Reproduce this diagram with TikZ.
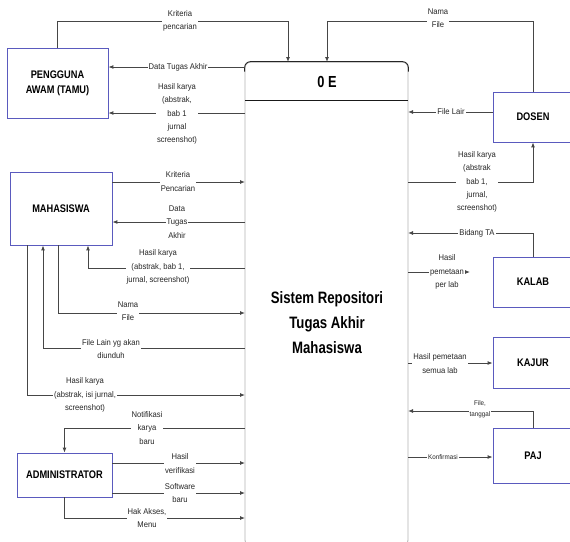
\documentclass[tikz,border=0pt]{standalone}
\usepackage{fontspec}
\setmainfont{Liberation Sans}
\newfontfamily\lblfont[FakeStretch=0.92]{Liberation Sans}
\newfontfamily\entfont[FakeStretch=0.84]{Liberation Sans}
\newfontfamily\procfont[FakeStretch=0.8]{Liberation Sans}
\usepackage{xcolor}
\usetikzlibrary{positioning,arrows.meta}
\definecolor{entblue}{RGB}{90,90,190}
\definecolor{flowgray}{RGB}{70,70,70}
\tikzset{
  entity/.style={draw=entblue,line width=0.8pt,inner sep=2pt,align=center,font=\entfont\bfseries\fontsize{11}{15}\selectfont},
  flow/.style={draw=flowgray,line width=0.9pt,-{Latex[length=5pt,width=4pt]}},
  lbl/.style={fill=white,inner sep=1pt,align=center,text=black!85,font=\lblfont\fontsize{8.3}{13.3}\selectfont},
  slbl/.style={lbl,font=\lblfont\fontsize{6.8}{11}\selectfont},
}

\begin{document}
\begin{tikzpicture}[x=1pt,y=-1pt]
  \useasboundingbox (0,0) rectangle (570,541);
  \clip (0,0) rectangle (570,541);

  \node[draw=black!30,line width=0.8pt,rounded corners=6pt,minimum width=163pt,minimum height=484pt] (proc) at (326.5,304) {};
  \draw[black!85,line width=0.9pt,rounded corners=6pt] ([yshift=-10pt]proc.north west) |- (proc.north) -| ([yshift=-10pt]proc.north east);
  \coordinate (divl) at (245,100);
  \coordinate (divr) at (408,100);
  \draw[black!90,line width=1pt] (divl) -- (divr);
  \node[font=\procfont\bfseries\fontsize{16}{19}\selectfont] (procid) at (327,82) {0 E};
  \node[align=center,font=\procfont\bfseries\fontsize{16.5}{25}\selectfont] (proctext) at (327,323) {Sistem Repositori\\Tugas Akhir\\Mahasiswa};

  \node[entity,minimum width=101pt,minimum height=70pt] (awam) at (57.5,83) {PENGGUNA\\AWAM (TAMU)};
  \node[entity,minimum width=102pt,minimum height=73pt] (mhs) at (61,208.5) {MAHASISWA};
  \node[entity,minimum width=95pt,minimum height=44pt] (admin) at (64.5,475) {ADMINISTRATOR};
  \node[entity,minimum width=80pt,minimum height=50pt] (dosen) at (533,117) {DOSEN};
  \node[entity,minimum width=80pt,minimum height=50pt] (kalab) at (533,282) {KALAB};
  \node[entity,minimum width=80pt,minimum height=51pt] (kajur) at (533,362.5) {KAJUR};
  \node[entity,minimum width=80pt,minimum height=55pt] (paj) at (533,455.5) {PAJ};

  \coordinate (t1) at (288,62);
  \coordinate (t2) at (327,62);
  \coordinate (w1) at (245,67);
  \coordinate (w2) at (245,113);
  \coordinate (w3) at (245,182);
  \coordinate (w4) at (245,222);
  \coordinate (w5) at (245,268);
  \coordinate (w6) at (245,313);
  \coordinate (w7) at (245,348);
  \coordinate (w8) at (245,395);
  \coordinate (w9) at (245,428);
  \coordinate (w10) at (245,463);
  \coordinate (w11) at (245,493);
  \coordinate (w12) at (245,518);
  \coordinate (e1) at (408,112);
  \coordinate (e2) at (408,182);
  \coordinate (e3) at (408,233);
  \coordinate (e4) at (408,272);
  \coordinate (e4end) at (470,272);
  \coordinate (e5) at (408,363);
  \coordinate (e6) at (408,411);
  \coordinate (e7) at (408,457);

  \draw[flow] (awam.north) -- ++(0,-26) -| (t1);
  \draw[flow] (w1) -- (awam.east |- w1);
  \draw[flow] (w2) -- (awam.east |- w2);
  \draw[flow] (dosen.north) -- ++(0,-70) -| (t2);
  \draw[flow] (dosen.west |- e1) -- (e1);
  \draw[flow] (e2) -| (dosen.south);
  \draw[flow] (mhs.east |- w3) -- (w3);
  \draw[flow] (w4) -- (mhs.east |- w4);
  \draw[flow] (w5) -| ([xshift=27pt]mhs.south);
  \draw[flow] ([xshift=-3pt]mhs.south) |- (w6);
  \draw[flow] (w7) -| ([xshift=-18pt]mhs.south);
  \draw[flow] ([xshift=-34pt]mhs.south) |- (w8);
  \draw[flow] (w9) -| (admin.north);
  \draw[flow] (admin.east |- w10) -- (w10);
  \draw[flow] (admin.east |- w11) -- (w11);
  \draw[flow] (admin.south) |- (w12);
  \draw[flow] (kalab.north) |- (e3);
  \draw[flow] (e4) -- (e4end);
  \draw[flow] (e5) -- (kajur.west |- e5);
  \draw[flow] (paj.north) |- (e6);
  \draw[flow] (e7) -- (paj.west |- e7);

  \node[lbl] (l1) at (180,21) {Kriteria\\pencarian};
  \node[lbl] (l2) at (178,67) {Data Tugas Akhir};
  \node[lbl] (l3) at (177,114) {Hasil karya\\(abstrak,\\bab 1\\jurnal\\screenshot)};
  \node[lbl] (l4) at (438,18.5) {Nama\\File};
  \node[lbl] (l5) at (451,112) {File Lair};
  \node[lbl] (l6) at (477,182) {Hasil karya\\(abstrak\\bab 1,\\jurnal,\\screenshot)};
  \node[lbl] (l7) at (178,181.5) {Kriteria\\Pencarian};
  \node[lbl] (l8) at (177,222) {Data\\Tugas\\Akhir};
  \node[lbl] (l9) at (158,267) {Hasil karya\\(abstrak, bab 1,\\jurnal, screenshot)};
  \node[lbl] (l10) at (128,311) {Nama\\File};
  \node[lbl] (l11) at (111,349) {File Lain yg akan\\diunduh};
  \node[lbl] (l12) at (85,395) {Hasil karya\\(abstrak, isi jurnal,\\screenshot)};
  \node[lbl] (l13) at (147,428) {Notifikasi\\karya\\baru};
  \node[lbl] (l14) at (180,463.5) {Hasil\\verifikasi};
  \node[lbl] (l15) at (180,493) {Software\\baru};
  \node[lbl] (l16) at (147,518) {Hak Akses,\\Menu};
  \node[lbl] (l17) at (477,233) {Bidang TA};
  \node[lbl] (l18) at (447,272) {Hasil\\pemetaan\\per lab};
  \node[lbl] (l19) at (440,363.5) {Hasil pemetaan\\semua lab};
  \node[slbl] (l20) at (480,409) {File,\\tanggal};
  \node[slbl] (l21) at (443,457) {Konfirmasi};
\end{tikzpicture}
\end{document}
